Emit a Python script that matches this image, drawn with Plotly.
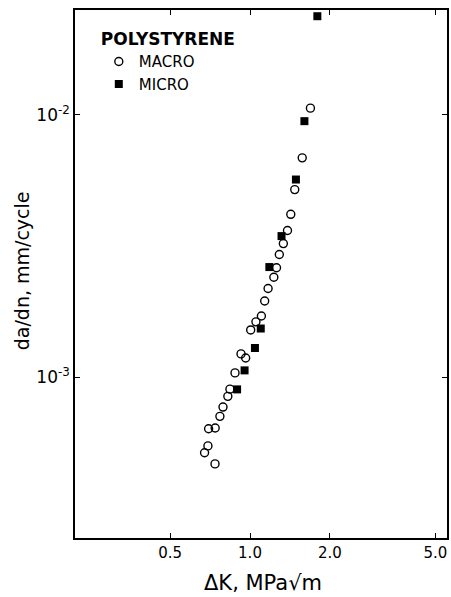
import plotly.graph_objects as go

# ---- data ----
macro_dk = [1.690, 1.574, 1.475, 1.425, 1.385, 1.336, 1.290, 1.259, 1.230, 1.170,
            1.136, 1.104, 1.053, 1.006, 0.925, 0.963, 0.878, 0.840, 0.825, 0.791,
            0.770, 0.698, 0.739, 0.694, 0.674, 0.738]
macro_dadn = [0.01059, 0.006849, 0.005183, 0.004173, 0.003619, 0.003228, 0.002934,
              0.002610, 0.002402, 0.002176, 0.001950, 0.001710, 0.001624, 0.001513,
              0.001226, 0.001183, 0.001038, 0.000900, 0.000845, 0.000769, 0.000709,
              0.000636, 0.000640, 0.000547, 0.000515, 0.000467]
micro_dk = [1.795, 1.604, 1.490, 1.315, 1.183, 1.098, 1.044, 0.954, 0.894]
micro_dadn = [0.02373, 0.00945, 0.005662, 0.003447, 0.002627, 0.001532, 0.001291,
              0.001061, 0.000898]

x_tick_vals = [0.5, 1.0, 2.0, 5.0]
x_tick_text = ["0.5", "1.0", "2.0", "5.0"]
y_tick_vals = [1e-3, 1e-2]
y_tick_text = ["10<sup>-3</sup>", "10<sup>-2</sup>"]

FONT = "DejaVu Sans"

fig = go.Figure()
fig.add_trace(go.Scatter(
    x=macro_dk, y=macro_dadn, mode="markers", name="MACRO", cliponaxis=False,
    marker=dict(symbol="circle-open", size=8, color="black",
                line=dict(width=1.4, color="black"))))
fig.add_trace(go.Scatter(
    x=micro_dk, y=micro_dadn, mode="markers", name="MICRO", cliponaxis=False,
    marker=dict(symbol="square", size=8, color="black",
                line=dict(width=0, color="black"))))

axis_common = dict(
    type="log", showgrid=False, zeroline=False, showline=True, linewidth=1.5,
    linecolor="black", mirror="ticks", ticks="inside", ticklen=5, tickwidth=1.3,
    tickcolor="black",
)

fig.update_layout(
    width=451, height=597,
    margin=dict(l=75, r=2, t=10, b=59),
    paper_bgcolor="white", plot_bgcolor="white",
    font=dict(family=FONT, color="black"),
    xaxis=dict(range=[-0.660, 0.743], tickvals=x_tick_vals, ticktext=x_tick_text,
               tickfont=dict(family=FONT, size=15, color="black"), **axis_common),
    yaxis=dict(range=[-3.613, -1.601], tickvals=y_tick_vals, ticktext=y_tick_text,
               tickfont=dict(family=FONT, size=17, color="black"), **axis_common),
    showlegend=True,
    legend=dict(
        x=0.064, y=0.975, xanchor="left", yanchor="top",
        bgcolor="rgba(0,0,0,0)", borderwidth=0,
        font=dict(family=FONT, size=15, color="black"),
        title=dict(text="<b>POLYSTYRENE</b>", side="top",
                   font=dict(family=FONT, size=17, color="black")),
        tracegroupgap=0, itemwidth=30,
    ),
    annotations=[
        dict(text="ΔK, MPa√m", xref="paper", yref="paper", x=0.505, y=-0.1117,
             xanchor="center", yanchor="bottom", showarrow=False,
             font=dict(family=FONT, size=21, color="black")),
        dict(text="da/dn, mm/cycle", xref="paper", yref="paper", x=-0.1417, y=0.5057,
             xanchor="center", yanchor="middle", showarrow=False, textangle=-90,
             font=dict(family=FONT, size=19, color="black")),
    ],
)

fig.write_html("out.html")
